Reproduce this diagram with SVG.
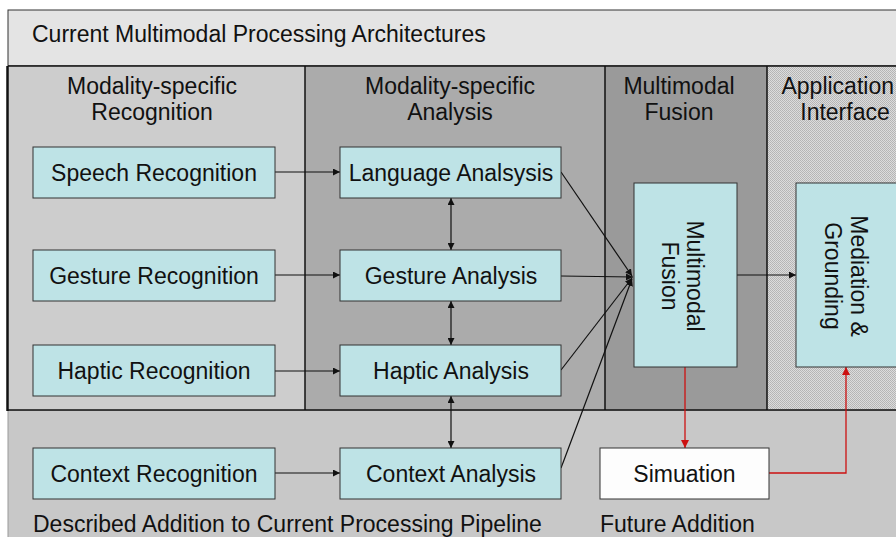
<svg xmlns="http://www.w3.org/2000/svg" width="896" height="537" viewBox="0 0 896 537">
<defs>
<style>
text{font-family:"Liberation Sans",Arial,sans-serif;font-size:23px;fill:#111}
.c{text-anchor:middle}
.box{fill:#bee3e6;stroke:#333;stroke-width:1}
.wbox{fill:#fdfdfd;stroke:#333;stroke-width:1}
.ln{fill:none;stroke:#111;stroke-width:1.2}
.red{fill:none;stroke:#cc1111;stroke-width:1.3}
.sep{stroke:#111;stroke-width:1.5}
</style>
<marker id="ah" viewBox="0 0 10 10" refX="10" refY="5" markerWidth="7" markerHeight="7" markerUnits="userSpaceOnUse" orient="auto-start-reverse"><path d="M0,0 L10,5 L0,10 z" fill="#111"/></marker>
<marker id="ahr" viewBox="0 0 10 10" refX="10" refY="5" markerWidth="8" markerHeight="8" markerUnits="userSpaceOnUse" orient="auto"><path d="M0,0 L10,5 L0,10 z" fill="#cc1111"/></marker>
<pattern id="dots" width="2" height="2" patternUnits="userSpaceOnUse"><rect width="2" height="2" fill="#dcdcdc"/><rect width="1" height="1" fill="#b4b4b4"/><rect x="1" y="1" width="1" height="1" fill="#b8b8b8"/></pattern>
</defs>
<rect width="896" height="537" fill="#ffffff"/>
<g id="background">
<rect x="8" y="410" width="900" height="140" fill="#c8c8c8" stroke="#999" stroke-width="1"/>
<rect x="8" y="10" width="900" height="56" fill="#e4e4e4" stroke="#333" stroke-width="1"/>
<rect x="8" y="66" width="297" height="344" fill="#cdcdcd"/>
<rect x="305" y="66" width="300" height="344" fill="#ababab"/>
<rect x="605" y="66" width="162" height="344" fill="#9a9a9a"/>
<rect x="767" y="66" width="140" height="344" fill="url(#dots)"/>
<line class="sep" x1="8" y1="66" x2="896" y2="66"/>
<line class="sep" x1="305" y1="66" x2="305" y2="410"/>
<line class="sep" x1="605" y1="66" x2="605" y2="410"/>
<line class="sep" x1="767" y1="66" x2="767" y2="410"/>
<line x1="7.5" y1="66" x2="7.5" y2="411" stroke="#111" stroke-width="2.5"/>
<line class="sep" x1="7" y1="410" x2="896" y2="410"/>
<text x="32" y="42">Current Multimodal Processing Architectures</text>
<text class="c" x="152" y="94">Modality-specific</text>
<text class="c" x="152" y="120">Recognition</text>
<text class="c" x="450" y="94">Modality-specific</text>
<text class="c" x="450" y="120">Analysis</text>
<text class="c" x="679" y="94">Multimodal</text>
<text class="c" x="679" y="120">Fusion</text>
<text x="894" y="94" text-anchor="end">Application</text>
<text class="c" x="845" y="120">Interface</text>
<text x="33" y="532">Described Addition to Current Processing Pipeline</text>
<text x="600" y="532">Future Addition</text>
</g>
<g id="connectors">
<line class="ln" x1="275" y1="172" x2="340" y2="172" marker-end="url(#ah)"/>
<line class="ln" x1="275" y1="275" x2="340" y2="275" marker-end="url(#ah)"/>
<line class="ln" x1="275" y1="371" x2="340" y2="371" marker-end="url(#ah)"/>
<line class="ln" x1="275" y1="473" x2="340" y2="473" marker-end="url(#ah)"/>
<line class="ln" x1="451" y1="198" x2="451" y2="250" marker-start="url(#ah)" marker-end="url(#ah)"/>
<line class="ln" x1="451" y1="301" x2="451" y2="345" marker-start="url(#ah)" marker-end="url(#ah)"/>
<line class="ln" x1="451" y1="396" x2="451" y2="448" marker-start="url(#ah)" marker-end="url(#ah)"/>
<line class="ln" x1="561" y1="172" x2="632" y2="276" marker-end="url(#ah)"/>
<line class="ln" x1="561" y1="276" x2="633" y2="277" marker-end="url(#ah)"/>
<line class="ln" x1="561" y1="370" x2="632" y2="278" marker-end="url(#ah)"/>
<line class="ln" x1="561" y1="468" x2="632" y2="279" marker-end="url(#ah)"/>
<line class="ln" x1="737" y1="275" x2="796" y2="275" marker-end="url(#ah)"/>
<line class="red" x1="685" y1="367" x2="685" y2="448" marker-end="url(#ahr)"/>
<polyline class="red" points="769,473 846,473 846,367" marker-end="url(#ahr)"/>
</g>
<g id="speech-recognition"><rect class="box" x="33" y="147" width="242" height="51"/><text class="c" x="154" y="181">Speech Recognition</text></g>
<g id="gesture-recognition"><rect class="box" x="33" y="250" width="242" height="51"/><text class="c" x="154" y="284">Gesture Recognition</text></g>
<g id="haptic-recognition"><rect class="box" x="33" y="345" width="242" height="51"/><text class="c" x="154" y="379">Haptic Recognition</text></g>
<g id="context-recognition"><rect class="box" x="33" y="448" width="242" height="51"/><text class="c" x="154" y="482">Context Recognition</text></g>
<g id="language-analysis"><rect class="box" x="340" y="147" width="221" height="51"/><text class="c" x="451" y="181">Language Analsysis</text></g>
<g id="gesture-analysis"><rect class="box" x="340" y="250" width="221" height="51"/><text class="c" x="451" y="284">Gesture Analysis</text></g>
<g id="haptic-analysis"><rect class="box" x="340" y="345" width="221" height="51"/><text class="c" x="451" y="379">Haptic Analysis</text></g>
<g id="context-analysis"><rect class="box" x="340" y="448" width="221" height="51"/><text class="c" x="451" y="482">Context Analysis</text></g>
<g id="multimodal-fusion"><rect class="box" x="634" y="183" width="103" height="184"/>
<text class="c" transform="translate(687,276) rotate(90)">Multimodal</text>
<text class="c" transform="translate(662,276) rotate(90)">Fusion</text></g>
<g id="mediation-grounding"><rect class="box" x="796" y="183" width="110" height="184"/>
<text class="c" transform="translate(851,276) rotate(90)">Mediation &amp;</text>
<text class="c" transform="translate(825,276) rotate(90)">Grounding</text></g>
<g id="simuation"><rect class="wbox" x="600" y="448" width="169" height="51"/><text class="c" x="684.5" y="482">Simuation</text></g>
</svg>
